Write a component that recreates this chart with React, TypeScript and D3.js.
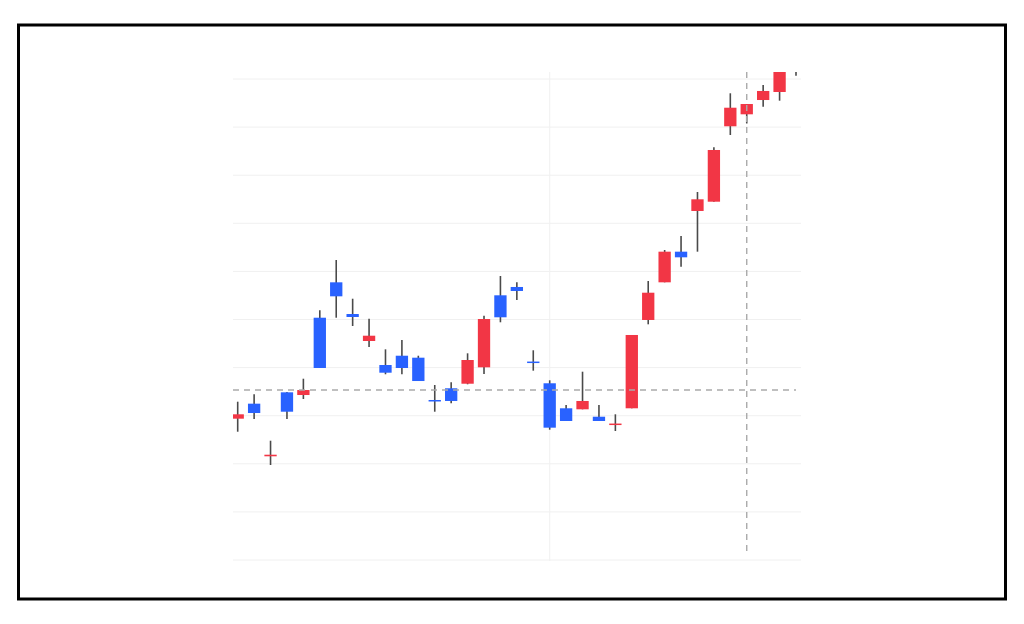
import React from "react";
import * as d3 from "d3";

const dates = [
  "2023-08-07","2023-08-08","2023-08-09","2023-08-10","2023-08-11","2023-08-14","2023-08-15",
  "2023-08-16","2023-08-17","2023-08-18","2023-08-21","2023-08-22","2023-08-23","2023-08-24",
  "2023-08-25","2023-08-28","2023-08-29","2023-08-30","2023-08-31","2023-09-01","2023-09-05",
  "2023-09-06","2023-09-07","2023-09-08","2023-09-11","2023-09-12","2023-09-13","2023-09-14",
  "2023-09-15","2023-09-18","2023-09-19","2023-09-20","2023-09-21","2023-09-22","2023-09-25",
];
const opens = [29.38,32.5,21.56,34.86,34.3,50.37,57.73,51.14,45.53,40.54,42.47,42.06,33.16,35.7,36.65,40.06,55.03,56.76,41.16,36.74,31.54,31.33,29.79,28.15,31.54,49.9,57.73,64.1,72.56,74.49,90.17,92.66,95.63,97.3,102.8];
const highs = [32.91,34.45,24.8,34.93,37.69,51.91,62.37,54.32,50.17,43.8,45.74,42.47,36.38,36.94,42.97,50.79,59.04,57.73,43.6,37.36,32.22,39.15,32.22,30.29,46.78,58.0,64.45,67.36,76.51,85.8,97.03,94.8,98.75,102.4,105.0];
const lows = [26.67,29.31,19.75,29.31,33.47,39.92,50.37,48.65,44.28,38.61,38.61,37.21,30.83,32.58,36.53,38.67,49.42,54.05,39.36,27.09,28.9,31.33,28.9,26.82,31.54,49.0,57.73,60.98,64.1,74.49,88.36,90.75,94.24,95.49,100.69];
const closes = [30.29,30.56,21.89,30.83,35.34,39.92,54.82,50.52,46.63,38.94,39.92,37.21,33.06,33.06,41.58,50.1,50.46,55.93,41.04,27.51,28.9,33.06,28.9,28.27,46.78,55.57,64.1,62.93,74.99,85.24,94.03,94.8,97.51,101.6,104.0];
const priceTicks = [0, 10, 20, 30, 40, 50, 60, 70, 80, 90, 100];
const timeGridDates = ["2023-09-01"];
const crosshairDate = "2023-09-20";
const crosshairPrice = 35.34;

const UP = "#F23645";
const DOWN = "#2962FF";
const WICK = "#4a4a4a";

export default function App() {
  const left = 233, right = 801, top = 72, bottom = 561;
  const x = d3.scalePoint<string>().domain(dates).range([237.7, 796]);
  const y = d3.scaleLinear().domain([0, 100]).range([560, 79]);
  const step = x.step();
  const bw = step * 0.75;
  const data = dates.map((d, i) => ({ d, o: opens[i], h: highs[i], l: lows[i], c: closes[i] }));

  return (
    <svg width={1024} height={624} style={{ position: "fixed", left: 0, top: 0, background: "#fff" }}>
      <defs>
        <clipPath id="plot">
          <rect x={left} y={top} width={right - left} height={bottom - top} />
        </clipPath>
      </defs>
      <rect x={18.5} y={25} width={987} height={574} fill="#fff" stroke="#000" strokeWidth={3} />
      <g clipPath="url(#plot)">
        {priceTicks.map((t) => (
          <line key={t} x1={left} x2={right} y1={y(t)} y2={y(t)} stroke="#f0f0f0" strokeWidth={1} />
        ))}
        {timeGridDates.map((d) => (
          <line key={d} x1={x(d)!} x2={x(d)!} y1={top} y2={bottom} stroke="#f0f0f0" strokeWidth={1} />
        ))}
        {data.map((k) => {
          const cx = x(k.d)!;
          const up = k.c >= k.o;
          const col = up ? UP : DOWN;
          const yTop = y(Math.max(k.o, k.c));
          const yBot = y(Math.min(k.o, k.c));
          const h = Math.max(1.5, yBot - yTop);
          return (
            <g key={k.d}>
              <line x1={cx} x2={cx} y1={y(k.h)} y2={y(k.l)} stroke={WICK} strokeWidth={1.6} />
              <rect x={cx - bw / 2} y={h === 1.5 ? (yTop + yBot) / 2 - 0.75 : yTop} width={bw} height={h} fill={col} />
            </g>
          );
        })}
        <line x1={left} x2={right - 5} y1={y(crosshairPrice)} y2={y(crosshairPrice)} stroke="#aaaaaa" strokeWidth={1.4} strokeDasharray="6 5" />
        <line x1={x(crosshairDate)!} x2={x(crosshairDate)!} y1={top} y2={bottom - 6} stroke="#aaaaaa" strokeWidth={1.4} strokeDasharray="6 5" />
      </g>
    </svg>
  );
}
